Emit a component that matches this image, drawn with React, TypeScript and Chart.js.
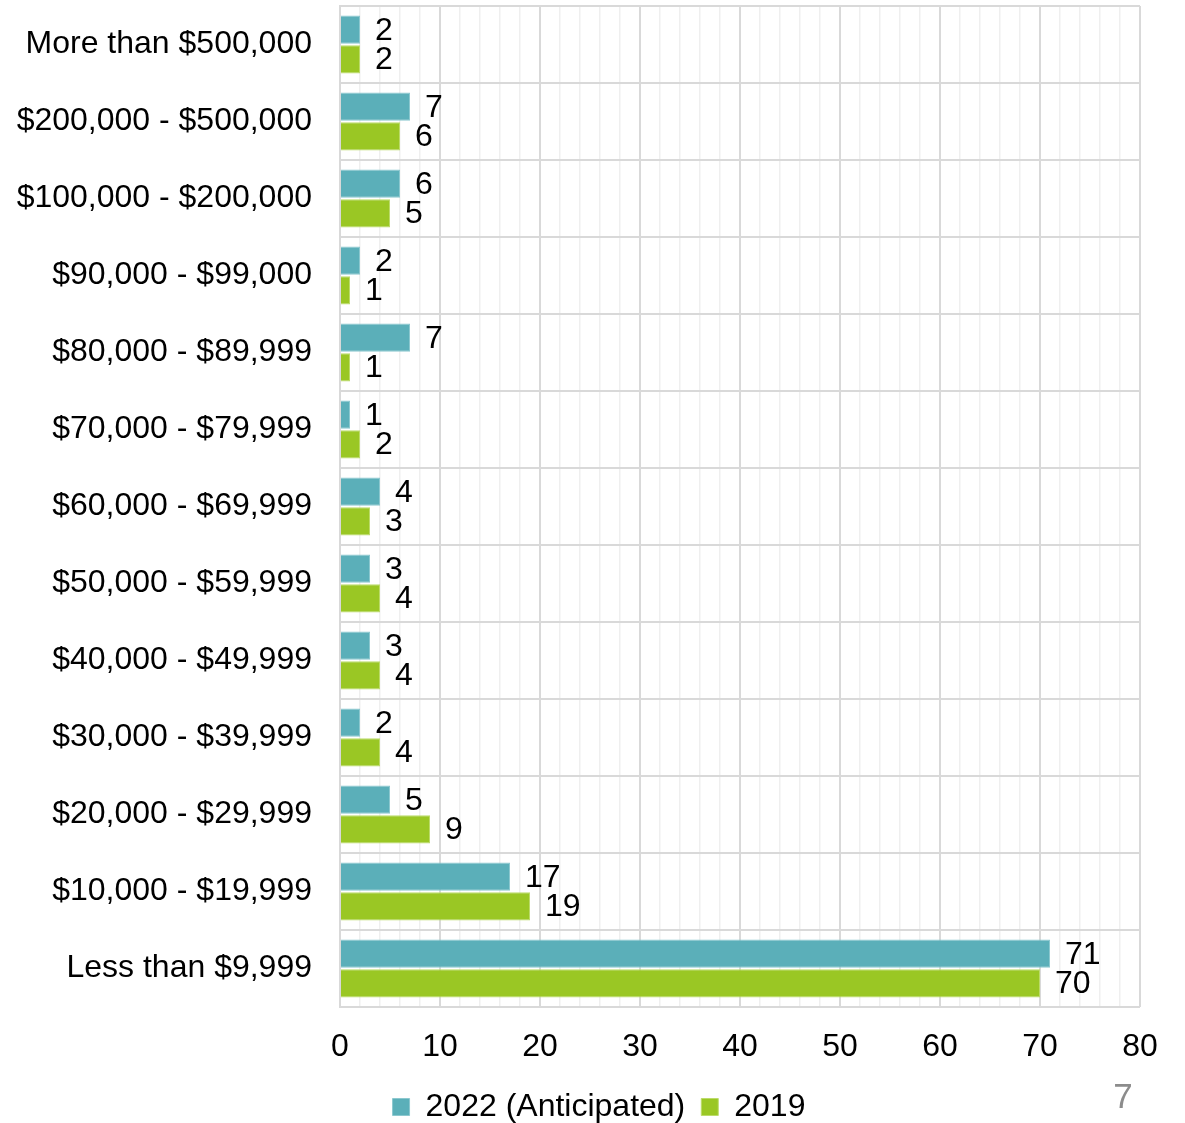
import { useEffect, useRef } from "react";
import { Chart, registerables } from "chart.js";

Chart.register(...registerables);

const categories = [
  "More than $500,000",
  "$200,000 - $500,000",
  "$100,000 - $200,000",
  "$90,000 - $99,000",
  "$80,000 - $89,999",
  "$70,000 - $79,999",
  "$60,000 - $69,999",
  "$50,000 - $59,999",
  "$40,000 - $49,999",
  "$30,000 - $39,999",
  "$20,000 - $29,999",
  "$10,000 - $19,999",
  "Less than $9,999",
];
const values2022 = [2, 7, 6, 2, 7, 1, 4, 3, 3, 2, 5, 17, 71];
const values2019 = [2, 6, 5, 1, 1, 2, 3, 4, 4, 4, 9, 19, 70];
const seriesNames = ["2022 (Anticipated)", "2019"];
const xMin = 0;
const xMax = 80;
const xMajorStep = 10;
const xMinorStep = 2;
const pageNumber = "7";

const FONT = "'Liberation Sans', Arial, sans-serif";

const dataLabelPlugin = {
  id: "dataLabels",
  afterDatasetsDraw(chart: any) {
    const ctx = chart.ctx;
    ctx.save();
    ctx.font = `32px ${FONT}`;
    ctx.fillStyle = "#000";
    ctx.textAlign = "left";
    ctx.textBaseline = "middle";
    chart.data.datasets.forEach((ds: any, di: number) => {
      const meta = chart.getDatasetMeta(di);
      meta.data.forEach((el: any, i: number) => {
        ctx.fillText(String(ds.data[i]), el.x + 15, el.y + 1);
      });
    });
    ctx.restore();
  },
};

const pageNumberPlugin = {
  id: "pageNumber",
  afterDraw(chart: any) {
    const ctx = chart.ctx;
    ctx.save();
    ctx.font = `35px ${FONT}`;
    ctx.fillStyle = "#8c8c8c";
    ctx.textAlign = "center";
    ctx.textBaseline = "middle";
    ctx.fillText(pageNumber, 1123, 1098);
    ctx.restore();
  },
};

// Let the category labels extend to the left canvas edge (avoid clipping to the axis box)
const unclipYLabelsPlugin = {
  id: "unclipYLabels",
  afterLayout(chart: any) {
    const y = chart.scales.y;
    if (y) y.left = 0;
  },
};

export default function App() {
  const ref = useRef<HTMLCanvasElement | null>(null);
  useEffect(() => {
    if (!ref.current) return;
    const chart = new Chart(ref.current, {
      type: "bar",
      data: {
        labels: categories,
        datasets: [
          {
            label: seriesNames[0],
            data: values2022,
            backgroundColor: "#5BAFB9",
            borderColor: "#8CC8CF",
            borderWidth: 1,
            categoryPercentage: 0.77,
            barPercentage: 0.95,
          },
          {
            label: seriesNames[1],
            data: values2019,
            backgroundColor: "#9AC724",
            borderColor: "#BCDB6A",
            borderWidth: 1,
            categoryPercentage: 0.77,
            barPercentage: 0.95,
          },
        ],
      },
      options: {
        indexAxis: "y",
        responsive: false,
        animation: false,
        layout: { padding: { left: 58, right: 45, top: 6, bottom: -10 } },
        plugins: {
          legend: {
            position: "bottom",
            labels: {
              boxWidth: 17,
              boxHeight: 17,
              padding: 16,
              color: "#000",
              font: { family: FONT, size: 32 },
            },
          },
          tooltip: { enabled: false },
        },
        scales: {
          x: {
            min: xMin,
            max: xMax,
            ticks: {
              stepSize: xMinorStep,
              autoSkip: false,
              maxRotation: 0,
              padding: 21,
              color: "#000",
              font: { family: FONT, size: 32 },
              callback: (v: any) => (Number(v) % xMajorStep === 0 ? String(v) : ""),
            },
            grid: {
              drawTicks: false,
              color: (c: any) =>
                c.tick && c.tick.value % xMajorStep === 0 ? "#d9d9d9" : "#efefef",
              lineWidth: (c: any) => (c.tick && c.tick.value % xMajorStep === 0 ? 2 : 1.5),
            },
            border: { display: false },
            afterFit: (s: any) => {
              s.height = 68;
            },
          },
          y: {
            ticks: {
              padding: 28,
              color: "#000",
              font: { family: FONT, size: 32 },
            },
            grid: {
              drawTicks: false,
              offset: true,
              color: "#d9d9d9",
              lineWidth: 2,
            },
            border: { color: "#d9d9d9", width: 2 },
            afterFit: (s: any) => {
              s.width = 282;
              s.paddingTop = 0;
              s.paddingBottom = 0;
            },
          },
        },
      },
      plugins: [dataLabelPlugin, pageNumberPlugin, unclipYLabelsPlugin],
    } as any);
    return () => chart.destroy();
  }, []);
  return (
    <div style={{ position: "absolute", left: 0, top: 0, width: 1185, height: 1123, background: "#fff" }}>
      <canvas ref={ref} width={1185} height={1123} style={{ display: "block" }} />
    </div>
  );
}
